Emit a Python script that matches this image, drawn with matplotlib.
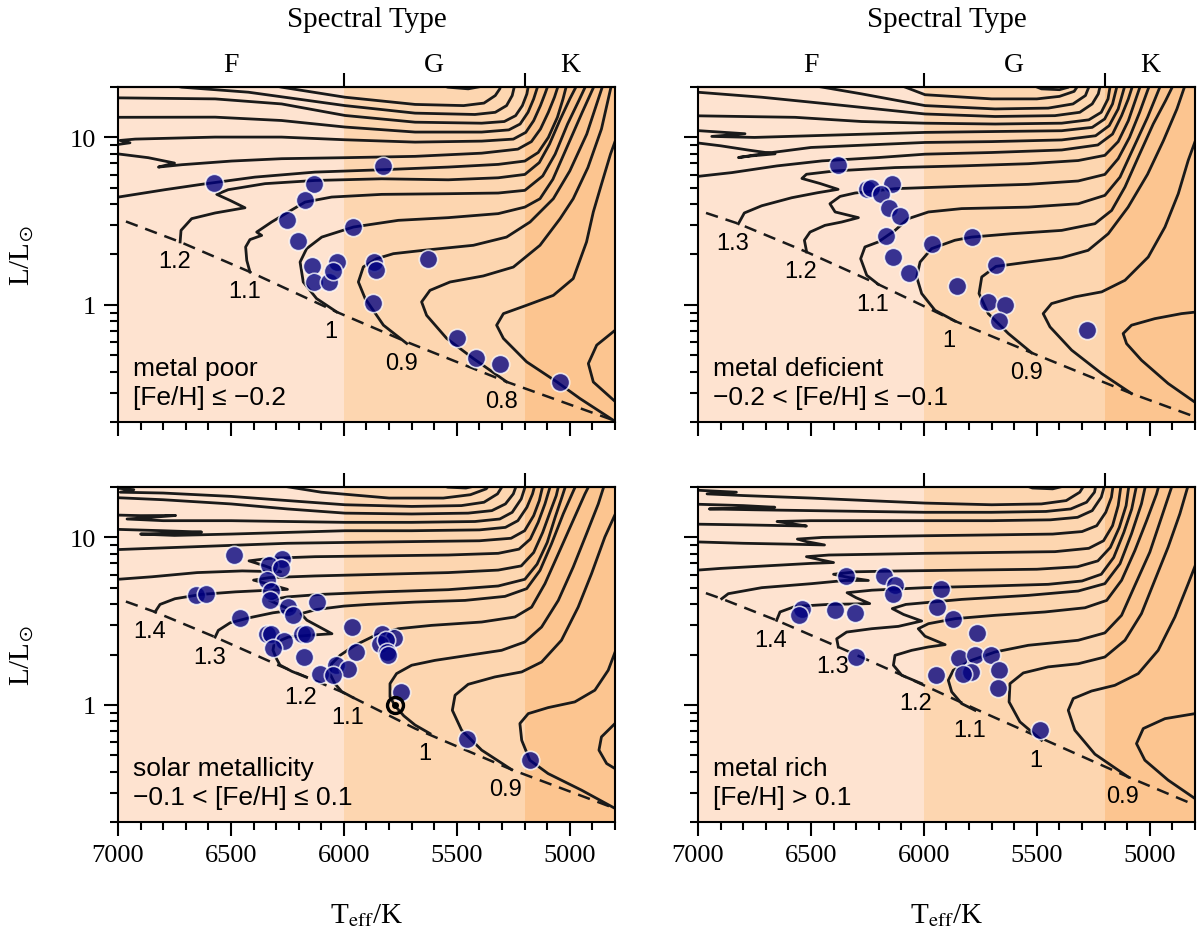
"""
HR diagrams of the sample split by metallicity, with evolutionary tracks,
the ZAMS (dashed) and the spectral type bands on top.
"""
import numpy as np
import matplotlib
matplotlib.use('Agg')
import matplotlib.pyplot as plt
from matplotlib.ticker import MultipleLocator, FixedLocator, FixedFormatter, NullFormatter

# ---------------------------------------------------------------- data
# every track / ZAMS point is (Teff [K], log10 L/Lsun)

poor_zams = [(7050, 0.54), (6998, 0.515), (6725, 0.376), (6416, 0.197), (6032, -0.042),
             (5722, -0.221), (5280, -0.459), (4808, -0.688), (4780, -0.70)]
poor_tracks = {
    '0.6': [(4780, -0.13), (4881, -0.24), (4918, -0.35), (4896, -0.46), (4780, -0.60)],
    '0.7': [(4808, -0.688), (4955, -0.559), (5058, -0.459), (5191, -0.34), (5294, -0.20), (5324, -0.121),
            (5294, -0.052), (5191, -0.002), (5073, 0.057), (4985, 0.157), (4926, 0.376), (4896, 0.555),
            (4860, 0.72), (4820, 0.90), (4780, 1.05)],
    '0.8': [(5280, -0.459), (5427, -0.32), (5545, -0.20), (5634, -0.062), (5656, 0.018), (5619, 0.087),
            (5530, 0.137), (5383, 0.173), (5250, 0.226), (5132, 0.356), (5043, 0.515), (4985, 0.634),
            (4920, 0.82), (4860, 1.05), (4812, 1.335)],
    '0.9': [(5722, -0.23), (5825, -0.121), (5906, 0.038), (5936, 0.137), (5914, 0.227), (5855, 0.276),
            (5781, 0.306), (5648, 0.326), (5427, 0.356), (5280, 0.405), (5176, 0.495), (5073, 0.634),
            (5000, 0.80), (4925, 1.02), (4848, 1.335)],
    '1': [(6032, -0.042), (6121, 0.038), (6180, 0.137), (6194, 0.256), (6165, 0.336), (6098, 0.405),
          (5958, 0.465), (5759, 0.505), (5538, 0.521), (5317, 0.545), (5199, 0.584), (5132, 0.634),
          (5075, 0.75), (5010, 0.95), (4945, 1.15), (4883, 1.335)],
    '1.1': [(6416, 0.197), (6430, 0.266), (6435, 0.346), (6416, 0.39), (6364, 0.415), (6386, 0.435),
            (6320, 0.495), (6246, 0.555), (6172, 0.614), (6054, 0.644), (5833, 0.66), (5538, 0.664),
            (5317, 0.668), (5199, 0.684), (5120, 0.77), (5065, 0.90), (5010, 1.08), (4960, 1.22),
            (4920, 1.335)],
    '1.2': [(6725, 0.376), (6721, 0.445), (6674, 0.515), (6570, 0.549), (6438, 0.58), (6504, 0.624),
            (6563, 0.66), (6512, 0.688), (6349, 0.724), (6128, 0.743), (5833, 0.753), (5538, 0.747),
            (5317, 0.759), (5199, 0.779), (5135, 0.85), (5090, 0.96), (5045, 1.10), (5000, 1.23),
            (4960, 1.335)],
    '1.3': [(7050, 0.635), (6998, 0.644), (6792, 0.688), (6630, 0.72), (6394, 0.763), (6128, 0.793),
            (5833, 0.807), (5538, 0.823), (5317, 0.839), (5199, 0.859), (5140, 0.91), (5095, 1.0),
            (5055, 1.12), (5030, 1.23), (5010, 1.335)],
    '1.4': [(7050, 0.91), (6866, 0.879), (6750, 0.847), (6821, 0.823), (6718, 0.837), (6497, 0.859),
            (6276, 0.873), (5995, 0.879), (5685, 0.887), (5390, 0.906), (5230, 0.93), (5170, 0.975),
            (5130, 1.05), (5095, 1.15), (5068, 1.24), (5045, 1.335)],
    '1.5': [(7050, 0.955), (7000, 0.958), (6947, 0.968), (6991, 0.982), (6924, 0.99), (6570, 1.002),
            (6276, 1.002), (5995, 0.986), (5685, 0.972), (5390, 0.978), (5250, 0.99), (5195, 1.03),
            (5160, 1.10), (5130, 1.19), (5110, 1.26), (5090, 1.335)],
    '1.6': [(7050, 1.12), (6570, 1.121), (6276, 1.101), (5995, 1.062), (5685, 1.032), (5390, 1.032),
            (5270, 1.045), (5220, 1.08), (5185, 1.15), (5160, 1.23), (5135, 1.335)],
    '1.7': [(7050, 1.237), (6570, 1.23), (6276, 1.20), (5995, 1.131), (5685, 1.091), (5390, 1.085),
            (5290, 1.095), (5240, 1.13), (5210, 1.19), (5190, 1.26), (5180, 1.335)],
    '1.8': [(6850, 1.335), (6718, 1.30), (6423, 1.27), (5995, 1.19), (5685, 1.145), (5420, 1.137),
            (5330, 1.15), (5280, 1.19), (5255, 1.25), (5240, 1.335)],
    '1.9': [(6400, 1.335), (6276, 1.30), (5995, 1.24), (5685, 1.197), (5470, 1.19), (5380, 1.205),
            (5330, 1.25), (5310, 1.29), (5300, 1.335)],
    '2.0': [(5620, 1.335), (5540, 1.30), (5450, 1.29), (5390, 1.305), (5365, 1.335)],
}
poor_labelled = ['1.2', '1.1', '1', '0.9', '0.8']
poor_teff = [6575, 6131, 6172, 6250, 6202, 5958, 5826, 5626, 6142, 6132, 6066, 6032, 6047, 5865,
             5858, 5872, 5501, 5417, 5309, 5044]
poor_logl = [0.728, 0.724, 0.624, 0.505, 0.382, 0.465, 0.829, 0.276, 0.233, 0.137, 0.137, 0.256,
             0.201, 0.256, 0.207, 0.014, -0.197, -0.314, -0.35, -0.459]

deficient_zams = [(7050, 0.59), (7000, 0.565), (6821, 0.485), (6519, 0.316), (6202, 0.123),
                  (5863, -0.096), (5523, -0.286), (5081, -0.529), (4800, -0.668), (4780, -0.68)]
deficient_tracks = {
    '0.7': [(4780, -0.60), (4919, -0.469), (5037, -0.33), (5103, -0.231), (5118, -0.171),
            (5081, -0.121), (4978, -0.082), (4860, -0.052), (4780, -0.04)],
    '0.8': [(5081, -0.529), (5213, -0.41), (5346, -0.27), (5442, -0.131), (5472, -0.052), (5435, 0.008),
            (5332, 0.048), (5213, 0.078), (5110, 0.147), (5007, 0.286), (4933, 0.465), (4874, 0.664),
            (4830, 0.863), (4785, 1.03)],
    '0.9': [(5523, -0.286), (5626, -0.171), (5715, -0.052), (5756, 0.068), (5744, 0.167), (5681, 0.23),
            (5538, 0.256), (5390, 0.282), (5273, 0.326), (5184, 0.425), (5096, 0.584), (5010, 0.78),
            (4940, 0.98), (4880, 1.17), (4838, 1.335)],
    '1': [(5863, -0.096), (5951, -0.032), (6010, 0.068), (6032, 0.167), (6017, 0.256), (5966, 0.336),
          (5863, 0.386), (5789, 0.405), (5612, 0.425), (5390, 0.445), (5243, 0.485), (5169, 0.564),
          (5110, 0.704), (5051, 0.883), (4985, 1.08), (4930, 1.22), (4888, 1.335)],
    '1.1': [(6202, 0.123), (6253, 0.177), (6280, 0.276), (6261, 0.346), (6202, 0.376), (6128, 0.445),
            (6069, 0.515), (5980, 0.555), (5833, 0.575), (5538, 0.584), (5317, 0.604), (5199, 0.654),
            (5132, 0.763), (5075, 0.93), (5010, 1.12), (4945, 1.335)],
    '1.2': [(6519, 0.316), (6529, 0.386), (6504, 0.435), (6438, 0.475), (6364, 0.495), (6290, 0.521),
            (6393, 0.555), (6416, 0.604), (6371, 0.648), (6305, 0.668), (6128, 0.694), (5833, 0.708),
            (5538, 0.72), (5317, 0.74), (5199, 0.779), (5140, 0.873), (5090, 1.0), (5045, 1.15),
            (4995, 1.335)],
    '1.3': [(6821, 0.485), (6795, 0.549), (6718, 0.592), (6585, 0.64), (6470, 0.67), (6380, 0.69),
            (6460, 0.725), (6540, 0.755), (6520, 0.78), (6394, 0.80), (6128, 0.82), (5833, 0.83),
            (5538, 0.843), (5317, 0.862), (5199, 0.893), (5140, 0.975), (5095, 1.10), (5035, 1.335)],
    '1.4': [(7050, 0.76), (6850, 0.79), (6650, 0.83), (6450, 0.86), (6200, 0.88), (5995, 0.90),
            (5700, 0.91), (5390, 0.925), (5230, 0.955), (5165, 1.02), (5125, 1.13), (5095, 1.23),
            (5070, 1.335)],
    '1.5': [(7050, 0.975), (6900, 0.95), (6780, 0.925), (6659, 0.902), (6760, 0.89), (6821, 0.88),
            (6700, 0.905), (6500, 0.94), (6250, 0.955), (5995, 0.97), (5700, 0.975), (5390, 0.985),
            (5240, 1.01), (5180, 1.07), (5140, 1.17), (5105, 1.335)],
    '1.6': [(7050, 1.045), (6792, 1.022), (6939, 1.006), (6750, 1.0), (6500, 1.01), (6250, 1.02),
            (5995, 1.03), (5700, 1.035), (5390, 1.04), (5255, 1.06), (5200, 1.11), (5165, 1.20),
            (5140, 1.335)],
    '1.7': [(7050, 1.13), (6570, 1.12), (6276, 1.095), (5995, 1.085), (5685, 1.08), (5390, 1.085),
            (5270, 1.105), (5215, 1.15), (5185, 1.23), (5172, 1.335)],
    '1.8': [(7050, 1.275), (6718, 1.24), (6423, 1.20), (5995, 1.14), (5685, 1.125), (5420, 1.13),
            (5310, 1.15), (5255, 1.20), (5228, 1.26), (5215, 1.335)],
    '1.9': [(6600, 1.335), (6276, 1.26), (5995, 1.19), (5685, 1.17), (5450, 1.175), (5340, 1.20),
            (5285, 1.25), (5260, 1.335)],
    '2.0': [(6150, 1.335), (5995, 1.255), (5700, 1.23), (5500, 1.23), (5400, 1.245), (5335, 1.275),
            (5305, 1.335)],
    '2.1': [(5560, 1.335), (5480, 1.29), (5400, 1.285), (5360, 1.30), (5345, 1.335)],
}
deficient_labelled = ['1.3', '1.2', '1.1', '1', '0.9']
deficient_teff = [6382, 6250, 6235, 6140, 6190, 6153, 6107, 6169, 6135, 6065, 5966, 5789, 5852,
                  5681, 5715, 5641, 5668, 5277]
deficient_logl = [0.833, 0.692, 0.70, 0.724, 0.664, 0.58, 0.529, 0.409, 0.286, 0.191, 0.362, 0.405,
                  0.115, 0.24, 0.016, 0.0, -0.096, -0.147]

solar_zams = [(7050, 0.66), (7000, 0.634), (6836, 0.555), (6570, 0.405), (6290, 0.237), (6010, 0.078),
              (5685, -0.141), (5258, -0.386), (4800, -0.618), (4780, -0.63)]
solar_tracks = {
    '0.7': [(4780, -0.10), (4800, -0.111), (4860, -0.191), (4871, -0.27), (4837, -0.35), (4800, -0.38),
            (4780, -0.39)],
    '0.8': [(4790, -0.625), (4948, -0.509), (5096, -0.41), (5177, -0.33), (5213, -0.211), (5221, -0.111),
            (5184, -0.052), (5096, -0.016), (4978, 0.018), (4889, 0.088), (4830, 0.207), (4790, 0.35)],
    '0.9': [(5258, -0.386), (5390, -0.27), (5479, -0.151), (5520, -0.032), (5508, 0.058), (5450, 0.123),
            (5332, 0.167), (5213, 0.197), (5125, 0.256), (5037, 0.386), (4963, 0.584), (4904, 0.783),
            (4845, 1.002), (4785, 1.18)],
    '1': [(5619, -0.171), (5685, -0.12), (5735, -0.065), (5774, -0.005), (5796, 0.048), (5796, 0.127),
          (5767, 0.187), (5700, 0.237), (5597, 0.266), (5450, 0.296), (5302, 0.326), (5199, 0.376),
          (5125, 0.465), (5051, 0.624), (4985, 0.823), (4926, 1.022), (4874, 1.20), (4842, 1.335)],
    '1.1': [(5960, 0.044), (6010, 0.08), (6040, 0.127), (6062, 0.187), (6054, 0.246), (6017, 0.296),
            (5951, 0.356), (5862, 0.415), (5759, 0.455), (5612, 0.475), (5390, 0.495), (5243, 0.525),
            (5169, 0.584), (5110, 0.724), (5051, 0.902), (4992, 1.081), (4933, 1.26), (4905, 1.335)],
    '1.2': [(6165, 0.165), (6230, 0.20), (6283, 0.238), (6300, 0.28), (6314, 0.327), (6308, 0.37),
            (6246, 0.405), (6142, 0.417), (6053, 0.425), (6164, 0.506), (6190, 0.545), (6120, 0.57),
            (6000, 0.59), (5892, 0.60), (5685, 0.614), (5464, 0.624), (5287, 0.648), (5191, 0.694),
            (5132, 0.803), (5081, 0.962), (5029, 1.141), (4990, 1.26), (4965, 1.335)],
    '1.3': [(6570, 0.405), (6556, 0.445), (6504, 0.49), (6420, 0.52), (6314, 0.55), (6230, 0.565),
            (6290, 0.60), (6330, 0.625), (6250, 0.645), (6100, 0.66), (5833, 0.675), (5538, 0.688),
            (5317, 0.71), (5199, 0.75), (5145, 0.84), (5100, 0.97), (5065, 1.12), (5035, 1.24),
            (5012, 1.335)],
    '1.4': [(6836, 0.555), (6814, 0.60), (6748, 0.634), (6630, 0.66), (6480, 0.675), (6330, 0.685),
            (6250, 0.69), (6330, 0.72), (6400, 0.745), (6330, 0.76), (6128, 0.77), (5833, 0.78),
            (5538, 0.79), (5317, 0.805), (5215, 0.83), (5160, 0.91), (5120, 1.03), (5085, 1.16),
            (5060, 1.25), (5045, 1.335)],
    '1.5': [(7050, 0.745), (6850, 0.765), (6650, 0.79), (6450, 0.80), (6280, 0.795), (6350, 0.83),
            (6420, 0.86), (6330, 0.875), (6128, 0.885), (5833, 0.89), (5538, 0.895), (5317, 0.905),
            (5225, 0.93), (5175, 0.99), (5140, 1.09), (5110, 1.20), (5080, 1.335)],
    '1.6': [(7050, 0.925), (6850, 0.935), (6650, 0.945), (6450, 0.955), (6250, 0.965), (5995, 0.97),
            (5700, 0.975), (5400, 0.98), (5260, 0.995), (5200, 1.04), (5160, 1.13), (5135, 1.22),
            (5115, 1.335)],
    '1.7': [(7050, 1.05), (6800, 1.04), (6630, 1.032), (6780, 1.025), (6900, 1.02), (6750, 1.012),
            (6500, 1.02), (6250, 1.03), (5995, 1.04), (5700, 1.04), (5400, 1.045), (5285, 1.06),
            (5230, 1.10), (5190, 1.18), (5165, 1.26), (5150, 1.335)],
    '1.8': [(7050, 1.135), (6900, 1.13), (6745, 1.131), (6850, 1.12), (6960, 1.11), (6800, 1.10),
            (6500, 1.10), (6250, 1.095), (5995, 1.09), (5700, 1.09), (5420, 1.095), (5310, 1.11),
            (5255, 1.15), (5215, 1.23), (5190, 1.335)],
    '1.9': [(7050, 1.24), (6800, 1.225), (6500, 1.20), (6250, 1.17), (5995, 1.145), (5700, 1.14),
            (5450, 1.145), (5345, 1.16), (5285, 1.20), (5250, 1.26), (5230, 1.335)],
    '2.0': [(7050, 1.30), (6930, 1.285), (6990, 1.27), (6800, 1.265), (6500, 1.245), (6250, 1.22),
            (5995, 1.195), (5700, 1.185), (5480, 1.19), (5380, 1.21), (5320, 1.26), (5285, 1.335)],
    '2.1': [(6400, 1.335), (6100, 1.27), (5800, 1.235), (5560, 1.235), (5440, 1.255), (5370, 1.29),
            (5345, 1.335)],
    '2.2': [(5620, 1.335), (5540, 1.30), (5460, 1.295), (5410, 1.31), (5395, 1.335)],
}
solar_labelled = ['1.4', '1.3', '1.2', '1.1', '1', '0.9']
solar_teff = [6486, 6276, 6332, 6280, 6342, 6323, 6326, 6246, 6224, 6121, 6656, 6612, 6460, 6342,
              6323, 6264, 6312, 6177, 6187, 6169, 5963, 5948, 6037, 5980, 6106, 6047, 5833, 5777,
              5840, 5815, 5811, 5806, 5749, 5454, 5177]
solar_logl = [0.897, 0.873, 0.837, 0.817, 0.744, 0.68, 0.624, 0.584, 0.539, 0.614, 0.654, 0.66,
              0.517, 0.425, 0.421, 0.38, 0.342, 0.286, 0.421, 0.421, 0.465, 0.316, 0.237, 0.217,
              0.183, 0.177, 0.425, 0.40, 0.362, 0.386, 0.316, 0.30, 0.078, -0.201, -0.33]
sun_teff, sun_lum = 5772, 1.0

rich_zams = [(7050, 0.71), (7000, 0.684), (6895, 0.634), (6652, 0.505), (6379, 0.346), (6113, 0.187),
             (5759, -0.032), (5494, -0.191), (5096, -0.43), (4800, -0.598), (4780, -0.61)]
rich_tracks = {
    '0.8': [(4780, -0.56), (4800, -0.559), (4919, -0.449), (5022, -0.33), (5059, -0.231), (5029, -0.141),
            (4933, -0.082), (4800, -0.052), (4780, -0.05)],
    '0.9': [(5096, -0.43), (5243, -0.294), (5332, -0.151), (5361, -0.032), (5339, 0.038), (5258, 0.083),
            (5155, 0.117), (5051, 0.187), (4963, 0.326), (4889, 0.525), (4830, 0.724), (4785, 0.88)],
    '1': [(5479, -0.211), (5575, -0.101), (5623, 0.018), (5619, 0.127), (5560, 0.191), (5450, 0.227),
          (5317, 0.246), (5199, 0.286), (5110, 0.386), (5037, 0.545), (4978, 0.744), (4919, 0.942),
          (4867, 1.141), (4825, 1.335)],
    '1.1': [(5774, -0.032), (5833, 0.008), (5877, 0.078), (5892, 0.147), (5870, 0.207), (5789, 0.266),
            (5685, 0.316), (5538, 0.356), (5317, 0.386), (5199, 0.43), (5125, 0.535), (5066, 0.714),
            (5000, 0.912), (4948, 1.121), (4895, 1.335)],
    '1.2': [(6010, 0.127), (6098, 0.177), (6135, 0.237), (6128, 0.296), (6054, 0.326), (5980, 0.346),
            (5906, 0.36), (5995, 0.41), (6025, 0.455), (5980, 0.485), (5862, 0.515), (5685, 0.535),
            (5464, 0.555), (5287, 0.58), (5191, 0.624), (5125, 0.744), (5066, 0.922), (5014, 1.101),
            (4970, 1.26), (4955, 1.335)],
    '1.3': [(6379, 0.346), (6386, 0.395), (6342, 0.435), (6231, 0.455), (6113, 0.469), (6010, 0.501),
            (6090, 0.54), (6140, 0.575), (6080, 0.60), (5833, 0.63), (5538, 0.654), (5317, 0.68),
            (5199, 0.724), (5132, 0.843), (5081, 1.022), (5037, 1.201), (5015, 1.335)],
    '1.4': [(6652, 0.505), (6637, 0.555), (6570, 0.588), (6423, 0.60), (6300, 0.603), (6240, 0.605),
            (6300, 0.64), (6340, 0.67), (6230, 0.685), (5995, 0.70), (5700, 0.71), (5450, 0.72),
            (5300, 0.74), (5215, 0.78), (5160, 0.88), (5115, 1.03), (5080, 1.17), (5055, 1.335)],
    '1.5': [(6895, 0.634), (6866, 0.664), (6718, 0.70), (6497, 0.724), (6349, 0.743), (6246, 0.743),
            (6330, 0.76), (6400, 0.78), (6300, 0.795), (6100, 0.80), (5800, 0.805), (5500, 0.81),
            (5320, 0.825), (5230, 0.86), (5175, 0.94), (5135, 1.06), (5105, 1.19), (5090, 1.335)],
    '1.6': [(7050, 0.80), (6900, 0.815), (6700, 0.83), (6500, 0.845), (6400, 0.85), (6470, 0.87),
            (6520, 0.885), (6420, 0.895), (6200, 0.90), (5995, 0.905), (5700, 0.91), (5420, 0.915),
            (5270, 0.935), (5205, 0.98), (5165, 1.07), (5140, 1.19), (5125, 1.335)],
    '1.7': [(7050, 0.975), (6800, 0.965), (6600, 0.96), (6440, 0.955), (6520, 0.975), (6560, 0.99),
            (6450, 1.0), (6250, 1.005), (5995, 1.01), (5700, 1.015), (5430, 1.02), (5300, 1.035),
            (5235, 1.07), (5195, 1.15), (5170, 1.24), (5160, 1.335)],
    '1.8': [(7050, 1.08), (6800, 1.075), (6600, 1.07), (6520, 1.068), (6600, 1.085), (6650, 1.095),
            (6500, 1.10), (6250, 1.10), (5995, 1.10), (5700, 1.10), (5440, 1.105), (5320, 1.12),
            (5255, 1.16), (5215, 1.24), (5195, 1.335)],
    '1.9': [(7050, 1.20), (6800, 1.19), (6660, 1.18), (6800, 1.175), (6950, 1.17), (6750, 1.165),
            (6500, 1.16), (6250, 1.155), (5995, 1.15), (5700, 1.15), (5460, 1.155), (5350, 1.17),
            (5280, 1.21), (5245, 1.27), (5235, 1.335)],
    '2.0': [(7050, 1.285), (6830, 1.27), (6960, 1.26), (6800, 1.25), (6500, 1.235), (6250, 1.22),
            (5995, 1.205), (5700, 1.195), (5480, 1.20), (5370, 1.22), (5310, 1.27), (5280, 1.335)],
    '2.1': [(5600, 1.335), (5520, 1.295), (5430, 1.29), (5385, 1.305), (5370, 1.335)],
}
rich_labelled = ['1.4', '1.3', '1.2', '1.1', '1', '0.9']
rich_teff = [6345, 6175, 6128, 6138, 5924, 5942, 5870, 5767, 6541, 6553, 6393, 6305, 6302, 5945,
             5843, 5774, 5703, 5668, 5674, 5792, 5829, 5486]
rich_logl = [0.767, 0.767, 0.714, 0.664, 0.694, 0.584, 0.515, 0.431, 0.574, 0.535, 0.565, 0.551,
             0.286, 0.181, 0.282, 0.296, 0.296, 0.207, 0.103, 0.197, 0.183, -0.147]

panel_texts = ['metal poor\n[Fe/H] \u2264 \u22120.2',
               'metal deficient\n\u22120.2 < [Fe/H] \u2264 \u22120.1',
               'solar metallicity\n\u22120.1 < [Fe/H] \u2264 0.1',
               'metal rich\n[Fe/H] > 0.1']

spec_edges = [7000, 6000, 5200, 4800]
spec_names = ['F', 'G', 'K']
spec_centres = [6500, 5600, 5000]
band_colours = ['#fee3d0', '#fdd6b0', '#fcc590']

# ---------------------------------------------------------------- style
plt.rcParams['font.family'] = ['Liberation Serif', 'DejaVu Serif']
plt.rcParams['mathtext.fontset'] = 'stix'
SANS = ['Liberation Sans', 'DejaVu Sans']
INK = '#1a1a1a'


def draw_panel(ax, zams, tracks, labelled, teff, logl, text, top_row, left_col):
    # spectral type bands
    for i in range(3):
        ax.axvspan(spec_edges[i], spec_edges[i + 1], color=band_colours[i], lw=0, zorder=0)

    for mass, pts in tracks.items():
        t, lg = np.array(pts).T
        ax.plot(t, 10 ** lg, color=INK, lw=2.0, zorder=2, solid_joinstyle='round')
        if mass in labelled:
            ax.annotate(mass, (t[0], 10 ** lg[0]), xytext=(-4, -14), textcoords='offset points',
                        ha='center', va='center', fontsize=17, family=SANS, zorder=5)

    zt, zl = np.array(zams).T
    ax.plot(zt, 10 ** zl, color=INK, lw=1.8, ls=(0, (5, 3.2)), zorder=2)

    ax.scatter(teff, 10 ** np.array(logl), s=175, color='#000080', alpha=0.78,
               edgecolors='white', linewidths=1.2, zorder=3)

    ax.text(0.03, 0.04, text, transform=ax.transAxes, ha='left', va='bottom',
            fontsize=19, family=SANS, linespacing=1.25, zorder=5)

    ax.set_xlim(7000, 4800)
    ax.set_yscale('log')
    ax.set_ylim(0.2, 20)

    ax.xaxis.set_major_locator(MultipleLocator(500))
    ax.xaxis.set_minor_locator(MultipleLocator(100))
    ax.yaxis.set_major_locator(FixedLocator([1, 10]))
    ax.yaxis.set_major_formatter(FixedFormatter(['1', '10']))
    ax.yaxis.set_minor_locator(FixedLocator([0.2, 0.3, 0.4, 0.5, 0.6, 0.7, 0.8, 0.9,
                                             2, 3, 4, 5, 6, 7, 8, 9, 20]))
    ax.yaxis.set_minor_formatter(NullFormatter())
    ax.tick_params(which='major', direction='out', length=10, width=1.5, labelsize=19, pad=6)
    ax.tick_params(which='minor', direction='out', length=6, width=1.5)
    ax.tick_params(labelbottom=not top_row, labelleft=left_col)
    for sp in ax.spines.values():
        sp.set_linewidth(1.5)

    sec = ax.secondary_xaxis('top')
    sec.set_xticks([6000, 5200])
    sec.xaxis.set_major_formatter(NullFormatter())
    sec.tick_params(which='major', direction='out', length=10, width=1.5)
    sec.spines['top'].set_linewidth(1.5)
    if top_row:
        sec.set_xticks(spec_centres, labels=spec_names, minor=True)
        sec.tick_params(which='minor', length=0, labelsize=20, pad=7)
    else:
        sec.set_xticks(spec_centres, minor=True)
        sec.tick_params(which='minor', length=0, labeltop=False)

    if left_col:
        ax.set_ylabel(r'L/L$_{\odot}$', fontsize=21)
        ax.yaxis.set_label_coords(-0.165, 0.5)
    if not top_row:
        ax.set_xlabel(r'T$_{\mathrm{eff}}$/K', fontsize=21)
        ax.xaxis.set_label_coords(0.5, -0.235)


fig = plt.figure(figsize=(12, 9.37), dpi=100)
w, h = 497 / 1200, 335 / 937
ax_tl = fig.add_axes([118 / 1200, 1 - 423 / 937, w, h])
ax_tr = fig.add_axes([698 / 1200, 1 - 423 / 937, w, h])
ax_bl = fig.add_axes([118 / 1200, 1 - 823 / 937, w, h])
ax_br = fig.add_axes([698 / 1200, 1 - 823 / 937, w, h])

draw_panel(ax_tl, poor_zams, poor_tracks, poor_labelled, poor_teff, poor_logl,
           panel_texts[0], True, True)
draw_panel(ax_tr, deficient_zams, deficient_tracks, deficient_labelled, deficient_teff,
           deficient_logl, panel_texts[1], True, False)
draw_panel(ax_bl, solar_zams, solar_tracks, solar_labelled, solar_teff, solar_logl,
           panel_texts[2], False, True)
draw_panel(ax_br, rich_zams, rich_tracks, rich_labelled, rich_teff, rich_logl,
           panel_texts[3], False, False)

# the Sun
ax_bl.plot(sun_teff, sun_lum, 'o', ms=11.5, mfc='none', mec='black', mew=2.4, zorder=4)
ax_bl.plot(sun_teff, sun_lum, 'o', ms=4, color='black', zorder=4)

for ax in (ax_tl, ax_tr):
    pos = ax.get_position()
    fig.text(pos.x0 + pos.width / 2, 1 - 20 / 937, 'Spectral Type', ha='center', va='center',
             fontsize=21)

fig.savefig('out.png', dpi=100)
